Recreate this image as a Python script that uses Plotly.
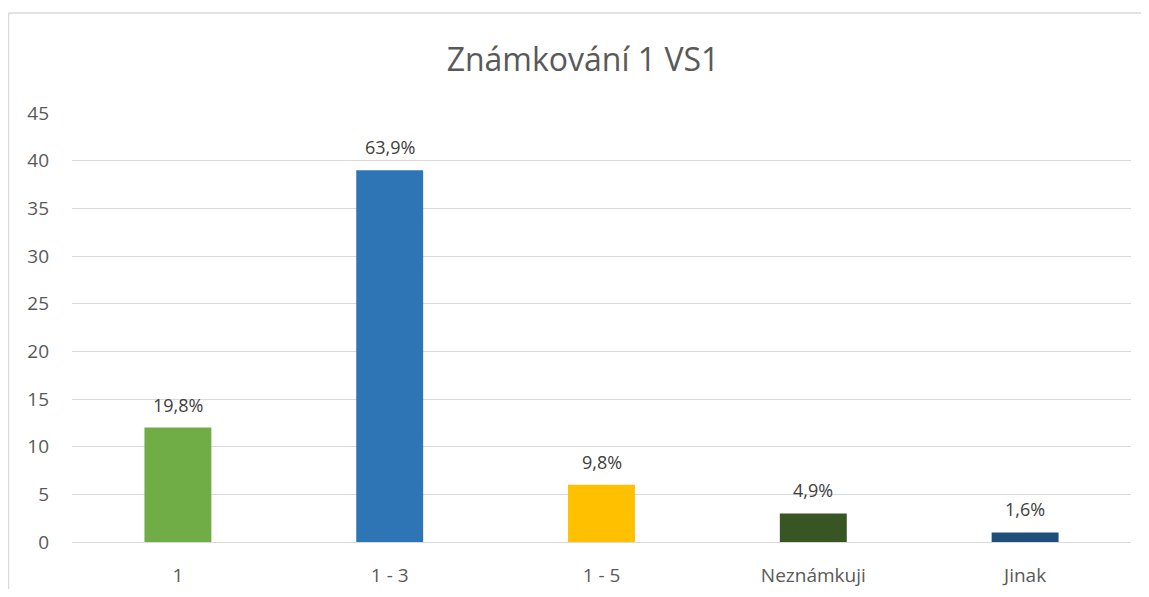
import plotly.graph_objects as go

categories = ["1", "1 - 3", "1 - 5", "Neznámkuji", "Jinak"]
counts = [12, 39, 6, 3, 1]
labels = ["19,8%", "63,9%", "9,8%", "4,9%", "1,6%"]
colors = ["#70AD47", "#2E75B6", "#FFC000", "#375623", "#1F4E79"]
title_text = "Známkování 1 VS1"

OFF = 8  # default body margin of the page (both sides)
W, H = 1149 - 2 * OFF, 597 - 2 * OFF
L, T = 72 - OFF, 113 - OFF
R = W - (1131 - OFF)
B = H - (542 - OFF)
pw, ph = W - L - R, H - T - B
FONT = "Open Sans, Liberation Sans, sans-serif"

fig = go.Figure(go.Bar(
    x=categories, y=counts, marker=dict(color=colors, line=dict(width=0)),
))

for i, (v, t) in enumerate(zip(counts, labels)):
    fig.add_annotation(x=i, y=v, xref="x", yref="y", text=t, showarrow=False,
                       yanchor="middle", yshift=23,
                       font=dict(family=FONT, size=18, color="#404040"))

fig.update_layout(
    width=W, height=H,
    margin=dict(l=L, r=R, t=T, b=B, autoexpand=False),
    paper_bgcolor="white", plot_bgcolor="white",
    bargap=0.684,
    showlegend=False,
    title=dict(text=title_text, x=(583 - OFF - L) / pw, xref="paper", xanchor="center",
               y=1 - (60 - OFF) / H, yanchor="middle",
               font=dict(family=FONT, size=32, color="#595959")),
    font=dict(family=FONT, size=19, color="#595959"),
    yaxis=dict(range=[0, 45], dtick=5, showgrid=True, gridcolor="#D9D9D9", gridwidth=1,
               zeroline=True, zerolinecolor="#D9D9D9", zerolinewidth=1, showline=False,
               ticks="", ticklabelstandoff=22, automargin=False),
    xaxis=dict(type="category", showgrid=False, showline=False, ticks="", ticklabelstandoff=20,
               automargin=False),
)

# chart-area frame: only the top and left edges are visible in the reference
fx0 = (0.5 - L) / pw
fx1 = (W + 20 - L) / pw
fy0 = -(H + 20 - (T + ph)) / ph
fy1 = (T + ph - (13 - OFF)) / ph
frame = dict(color="#D9D9D9", width=1.5)
fig.add_shape(type="line", xref="paper", yref="paper", x0=fx0, x1=fx1, y0=fy1, y1=fy1, line=frame, layer="below")
fig.add_shape(type="line", xref="paper", yref="paper", x0=fx0, x1=fx0, y0=fy0, y1=fy1, line=frame, layer="below")

fig.write_html("out.html")
